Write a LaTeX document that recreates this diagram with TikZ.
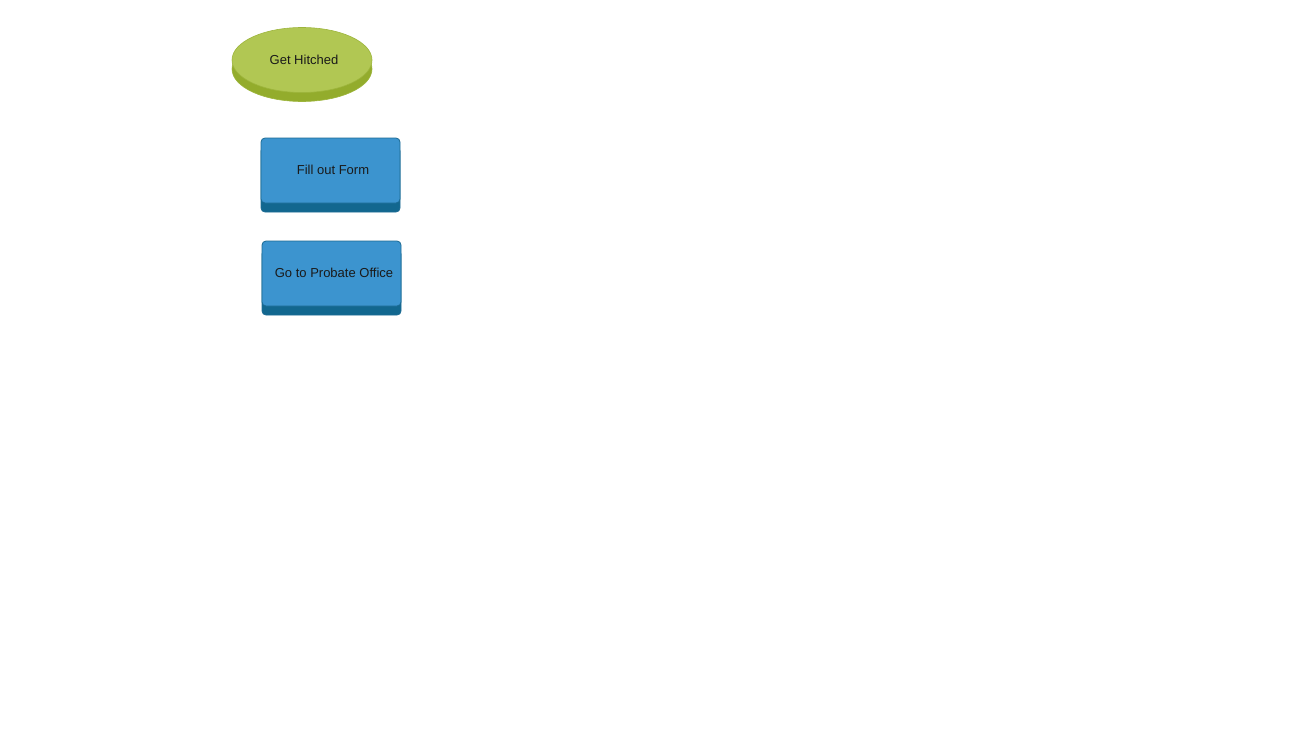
\documentclass[tikz,border=0pt]{standalone}
\usepackage{fontspec}
\setmainfont{Liberation Sans}
\usetikzlibrary{shapes.geometric,shadows}
\definecolor{gface}{HTML}{B1C753}
\definecolor{gdark}{HTML}{93AC2C}
\definecolor{gline}{HTML}{9DB53C}
\definecolor{bface}{HTML}{3C94CF}
\definecolor{bdark}{HTML}{12678F}
\definecolor{bline}{HTML}{1B6A93}
\definecolor{txt}{HTML}{1A1A1A}
\tikzset{
  startnode/.style={ellipse, minimum width=140pt, minimum height=65pt, inner sep=0pt,
    fill=gface, draw=gline, line width=0.6pt, text=txt, font=\fontsize{13}{15}\selectfont,
    general shadow={fill=gdark, draw=gline, shadow xshift=0pt, shadow yshift=-9pt}},
  stepbox/.style={rectangle, rounded corners=4pt, minimum width=139pt, minimum height=65pt, inner sep=0pt,
    fill=bface, draw=bline, line width=0.8pt, text=txt, font=\fontsize{13}{15}\selectfont,
    general shadow={fill=bdark, draw=bline, shadow xshift=0pt, shadow yshift=-9pt}}
}
\begin{document}
\begin{tikzpicture}[x=1pt,y=-1pt]
\useasboundingbox (0,0) rectangle (1300,750);
\node[startnode] (hitch) at (302,60) {\raisebox{1.2pt}{\hspace*{4pt}Get Hitched}};
\node[stepbox] (form) at (330.5,170.5) {\raisebox{1.2pt}{\hspace*{5pt}Fill out Form}};
\node[stepbox] (probate) at (331.5,273.5) {\raisebox{1.2pt}{\hspace*{5pt}Go to Probate Office}};
\end{tikzpicture}
\end{document}
